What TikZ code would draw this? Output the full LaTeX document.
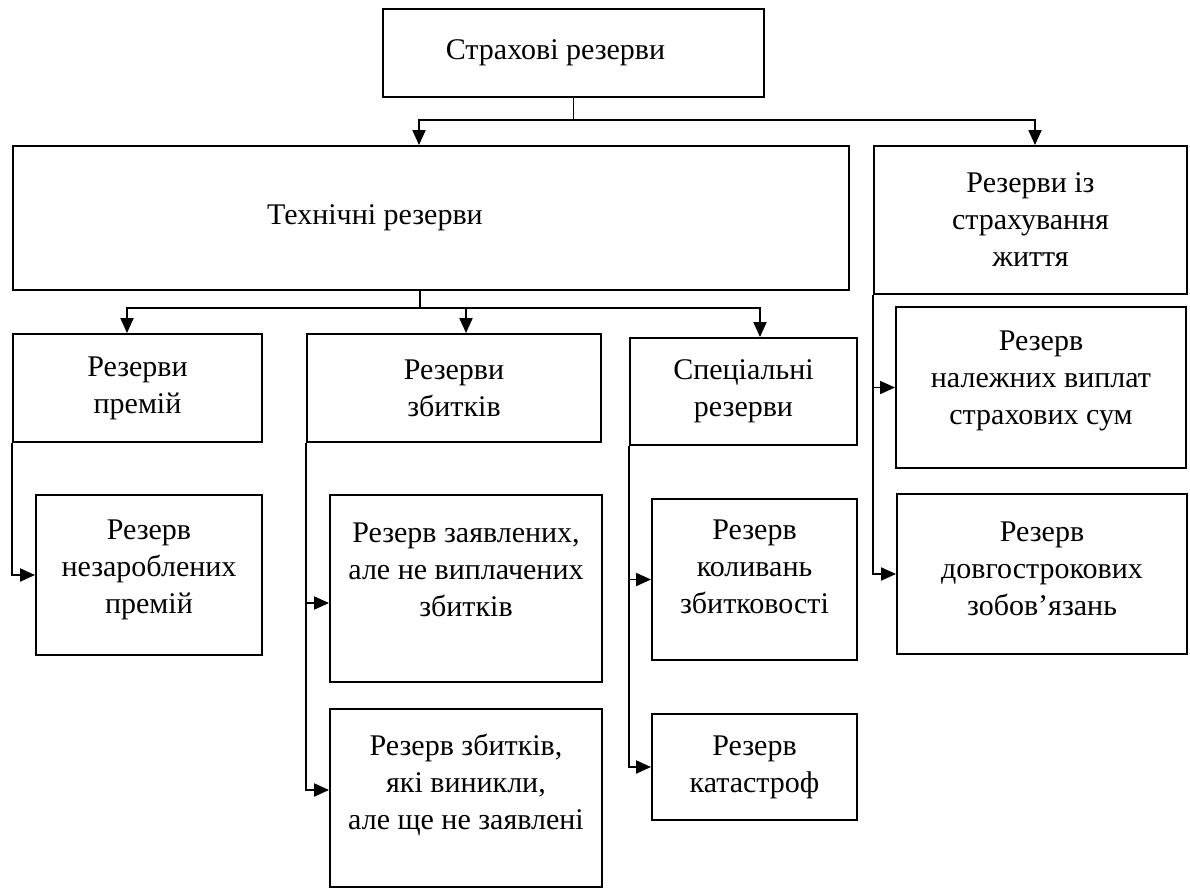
\documentclass[tikz,border=0pt]{standalone}
\usepackage{fontspec}
\setmainfont{Liberation Serif}
\usetikzlibrary{arrows.meta}
\tikzset{
	box/.style={draw=black, line width=1.9pt, inner sep=2pt, align=center},
	arr/.style={line width=1.9pt, -{Triangle[length=15pt,width=13pt]}},
	lift/.style={text depth=#1},
}
\begin{document}
\begin{tikzpicture}[x=1pt, y=-1pt, font=\fontsize{30}{37}\selectfont]
		\useasboundingbox (0,0) rectangle (1190,889);
		% upper levels
		\node at (573.5,53) [box, minimum width=381pt, minimum height=88pt, label={[name=toptxt, xshift=-18pt]center:Страхові резерви}] (top) {};
		\node at (431,218) [box, minimum width=836pt, minimum height=144pt, label={[name=techtxt, xshift=-56pt]center:Технічні резерви}] (tech) {};
		\node at (1030.5,220) [box, minimum width=313pt, minimum height=148pt] (life) {Резерви із\\ страхування\\ життя};
		\node at (137.5,388) [box, minimum width=249pt, minimum height=108pt] (prem) {Резерви\\ премій};
		\node at (454,388) [box, minimum width=294pt, minimum height=108pt] (loss) {Резерви\\ збитків};
		\node at (743.5,391.5) [box, minimum width=227pt, minimum height=107pt] (spec) {Спеціальні\\ резерви};
		% lower level
		\node at (149,575) [box, lift=16pt, minimum width=226pt, minimum height=160pt] (premA) {Резерв\\ незароблених\\ премій};
		\node at (466,588.5) [box, lift=38pt, minimum width=272pt, minimum height=187pt] (lossA) {Резерв заявлених,\\ але не виплачених\\ збитків};
		\node at (466,798) [box, lift=32pt, minimum width=272pt, minimum height=178pt] (lossB) {Резерв збитків,\\ які виникли,\\ але ще не заявлені};
		\node at (754.5,579.5) [box, lift=26pt, minimum width=205pt, minimum height=161pt] (specA) {Резерв\\ коливань\\ збитковості};
		\node at (754.5,767) [box, minimum width=205pt, minimum height=106pt] (specB) {Резерв\\ катастроф};
		\node at (1041,387.5) [box, lift=20pt, minimum width=290pt, minimum height=161pt] (lifeA) {Резерв\\ належних виплат\\ страхових сум};
		\node at (1042,574) [box, lift=10pt, minimum width=290pt, minimum height=160pt] (lifeB) {Резерв\\ довгострокових\\ зобов’язань};
		% connectors
		\draw[arr] (top.south) -- ++(0,22) -| ([xshift=-12pt]tech.north);
		\draw[arr] (top.south) -- ++(0,22) -| ([xshift=4.5pt]life.north);
		\draw[arr] ([xshift=-11pt]tech.south) -- ++(0,17) -| ([xshift=-10.5pt]prem.north);
		\draw[arr] ([xshift=-11pt]tech.south) -- ++(0,17) -| ([xshift=12pt]loss.north);
		\draw[arr] ([xshift=-11pt]tech.south) -- ++(0,17) -| ([xshift=16.5pt]spec.north);
		\draw[arr] (prem.south west) |- (premA.west);
		\draw[arr] (loss.south west) |- ([yshift=-14.5pt]lossA.west);
		\draw[arr] (loss.south west) |- ([yshift=8pt]lossB.west);
		\draw[arr] (spec.south west) |- (specA.west);
		\draw[arr] (spec.south west) |- (specB.west);
		\draw[arr] (life.south west) |- (lifeA.west);
		\draw[arr] (life.south west) |- (lifeB.west);
	\end{tikzpicture}
\end{document}
